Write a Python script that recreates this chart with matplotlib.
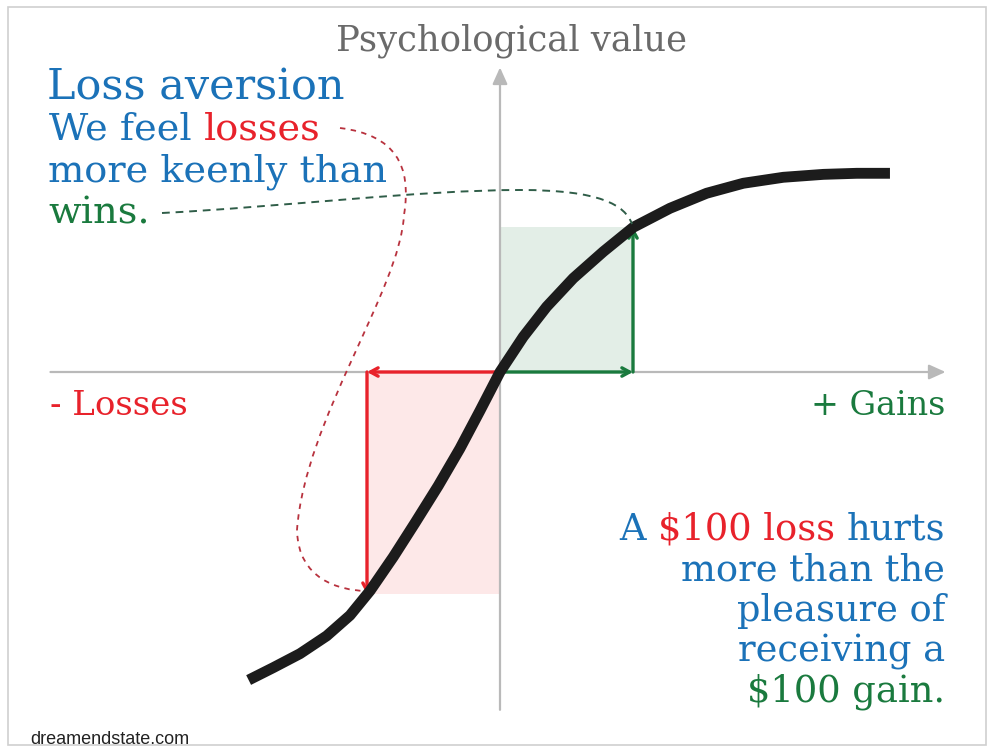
import matplotlib.pyplot as plt
import matplotlib.transforms as mtransforms
from matplotlib.path import Path
from matplotlib.patches import PathPatch, Rectangle

# value function: money (dollars) against psychological value
dollars = [-189, -170.5, -150.4, -130.3, -112.8, -97.7, -80.2, -63.9, -46.4, -30.1, -15.0, 0,
           17.5, 35.1, 55.1, 77.7, 100.2, 127.8, 155.4, 182.9, 213.0, 243.1, 268.2, 293.2]
value = [-231.6, -222.3, -211.8, -198.4, -183.0, -164.5, -139.0, -113.5, -85.5, -57.5, -29.0, 0,
         26.5, 49.1, 70.5, 90.5, 108.8, 123.1, 134.4, 141.9, 146.4, 148.6, 149.4, 149.4]

loss_amount, loss_value = -100, -167
gain_amount, gain_value = 100, 109

BLUE = '#1b72b8'
RED = '#e8222b'
GREEN = '#1a7a3e'
GREY_TXT = '#6a6a6a'
AXIS = '#b9b9b9'
SERIF = 'DejaVu Serif'

W, H = 992, 753
fig = plt.figure(figsize=(W / 100, H / 100), dpi=100)
ax = fig.add_axes([0, 0, 1, 1])
sc = 1.33            # pixels per unit
ox, oy = 500, 372    # where the origin sits in the picture
ax.set_xlim(-ox / sc, (W - ox) / sc)
ax.set_ylim(-(H - oy) / sc, oy / sc)
ax.axis('off')

# pixel transform for layout things (text, frame, connectors)
pix = mtransforms.Affine2D().scale(1 / W, -1 / H).translate(0, 1) + fig.transFigure

# thin frame round the picture
fig.patches.append(Rectangle((8, 7), 978, 738, transform=pix, fill=False,
                             edgecolor='#cfcfcf', lw=1.2))

# shaded boxes
ax.fill_between([loss_amount, 0], loss_value, 0, color='#fde8e8', lw=0, zorder=1)
ax.fill_between([0, gain_amount], 0, gain_value, color='#e3eee7', lw=0, zorder=1)

# axes with arrow heads
ax.annotate('', xy=(335, 0), xytext=(-338, 0),
            arrowprops=dict(arrowstyle='-|>,head_length=1.0,head_width=0.45',
                            color=AXIS, lw=1.6, shrinkA=0, shrinkB=0), zorder=2)
ax.annotate('', xy=(0, 229), xytext=(0, -254),
            arrowprops=dict(arrowstyle='-|>,head_length=1.0,head_width=0.45',
                            color=AXIS, lw=1.6, shrinkA=0, shrinkB=0), zorder=2)

# loss and gain arrows
arr = '->,head_length=0.55,head_width=0.3'
ax.annotate('', xy=(loss_amount, 0), xytext=(0, 0),
            arrowprops=dict(arrowstyle=arr, color=RED, lw=2.4, shrinkA=0, shrinkB=0), zorder=3)
ax.annotate('', xy=(loss_amount, loss_value), xytext=(loss_amount, 0),
            arrowprops=dict(arrowstyle=arr, color=RED, lw=2.4, shrinkA=0, shrinkB=0), zorder=3)
ax.annotate('', xy=(gain_amount, 0), xytext=(0, 0),
            arrowprops=dict(arrowstyle=arr, color=GREEN, lw=2.4, shrinkA=0, shrinkB=0), zorder=3)
ax.annotate('', xy=(gain_amount, gain_value), xytext=(gain_amount, 0),
            arrowprops=dict(arrowstyle=arr, color=GREEN, lw=2.4, shrinkA=0, shrinkB=0), zorder=3)

# the value curve
ax.plot(dollars, value, color='#1c1c1c', lw=7.8, solid_capstyle='butt',
        solid_joinstyle='round', zorder=4)

# dashed connectors from the words to the points on the curve
red_path = Path([(340, 128), (395, 135), (412, 165), (404, 215),
                 (400, 290), (305, 420), (297, 530),
                 (298, 580), (340, 590), (365, 591)],
                [Path.MOVETO] + [Path.CURVE4] * 9)
fig.patches.append(PathPatch(red_path, transform=pix, fill=False, edgecolor='#b8323e',
                             lw=1.3, linestyle=(0, (3, 3)), zorder=5))
green_path = Path([(162, 213), (280, 207), (420, 190), (520, 190),
                   (600, 190), (625, 205), (632, 224)],
                  [Path.MOVETO] + [Path.CURVE4] * 6)
fig.patches.append(PathPatch(green_path, transform=pix, fill=False, edgecolor='#2f5d48',
                             lw=1.4, linestyle=(0, (4, 3)), zorder=5))


def line(parts, x, y, size, ha='left'):
    """write one line made of differently coloured pieces, baseline at pixel y"""
    gap = 0.318 * size
    seq = parts if ha == 'left' else parts[::-1]
    prev = None
    for txt, col in seq:
        if prev is None:
            prev = ax.annotate(txt, xy=(x, y), xycoords=pix, ha=ha, va='baseline',
                               color=col, fontsize=size, family=SERIF, annotation_clip=False)
        else:
            if ha == 'left':
                prev = ax.annotate(txt, xy=(1, 0), xycoords=prev, xytext=(gap, 0),
                                   textcoords='offset points', ha='left', va='bottom',
                                   color=col, fontsize=size, family=SERIF)
            else:
                prev = ax.annotate(txt, xy=(0, 0), xycoords=prev, xytext=(-gap, 0),
                                   textcoords='offset points', ha='right', va='bottom',
                                   color=col, fontsize=size, family=SERIF)


line([('Psychological value', GREY_TXT)], 511, 51, 25.5, ha='center')
line([('Loss aversion', BLUE)], 47, 100, 31)
line([('We feel', BLUE), ('losses', RED)], 49, 140, 27.5)
line([('more keenly than', BLUE)], 48, 182, 27.5)
line([('wins.', GREEN)], 48, 223, 27.5)

line([('- Losses', RED)], 50, 415, 24.5)
line([('+ Gains', GREEN)], 945, 415, 24, ha='right')

line([('A', BLUE), ('$100 loss', RED), ('hurts', BLUE)], 945, 540, 26.5, ha='right')
line([('more than the', BLUE)], 945, 581, 26.5, ha='right')
line([('pleasure of', BLUE)], 945, 621, 26.5, ha='right')
line([('receiving a', BLUE)], 945, 662, 26.5, ha='right')
line([('$100 gain.', GREEN)], 945, 702, 26.5, ha='right')

fig.text(30 / W, 1 - 744 / H, 'dreamendstate.com', fontsize=13, color='#222222',
         family=['Liberation Sans Narrow', 'Liberation Sans'], va='baseline')

fig.savefig('out.png', dpi=100)
